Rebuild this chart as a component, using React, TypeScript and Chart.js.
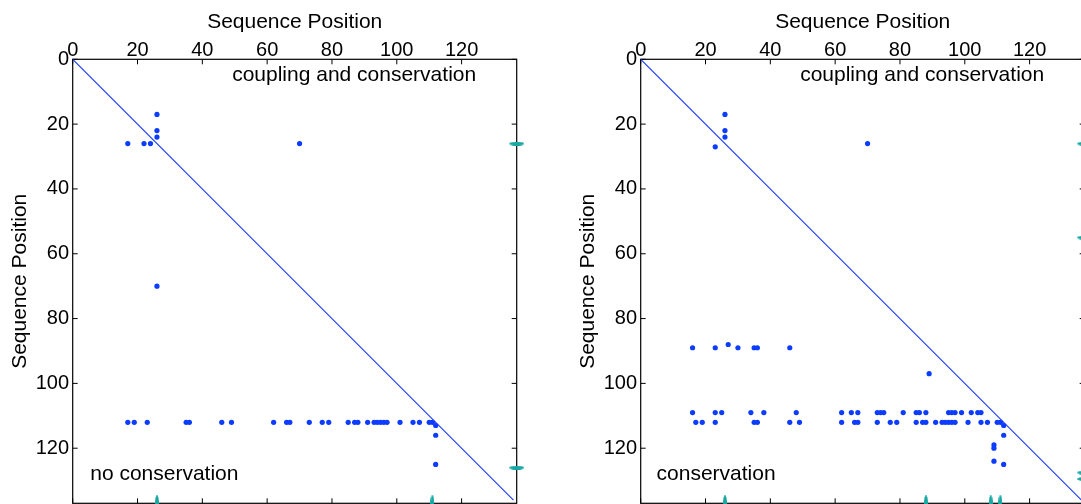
import React, { useEffect, useRef } from "react";
import { Chart, registerables } from "chart.js";

Chart.register(...registerables);

// ---------- data ----------
const AXIS_MIN = 0;
const AXIS_MAX = 137;
const DIAGONAL_END = 136;
const TICK_VALUES = [0, 20, 40, 60, 80, 100, 120];
const AXIS_TITLE = "Sequence Position";
const UPPER_LABEL = "coupling and conservation";
const LEFT_LOWER_LABEL = "no conservation";
const RIGHT_LOWER_LABEL = "conservation";

// shared row at y = 112 (both panels)
const ROW_112_Y = 112;
const ROW_112_X = [17, 19, 23, 35, 36, 46, 49, 62, 66, 67, 73, 77, 79, 85, 87, 88, 91, 93, 94, 95, 96, 97, 101, 105, 107, 110, 111];

// left panel
const LEFT_SCATTERED: [number, number][] = [
  [26, 17], [26, 22], [26, 24], [17, 26], [22, 26], [24, 26], [70, 26], [26, 70],
  [112, 113], [112, 116], [112, 125],
];
const LEFT_EDGE_MARK_Y = [26, 126];
const LEFT_BOTTOM_MARK_X = [26, 111];

// right panel
const RIGHT_SCATTERED: [number, number][] = [
  [26, 17], [26, 22], [26, 24], [23, 27], [70, 26], [27, 88], [89, 97],
  [112, 113], [112, 116], [112, 125], [109, 119], [109, 120], [109, 124],
];
const RIGHT_ROW_89_Y = 89;
const RIGHT_ROW_89_X = [16, 23, 30, 35, 36, 46];
const RIGHT_ROW_109_Y = 109;
const RIGHT_ROW_109_X = [16, 23, 25, 34, 38, 48, 62, 65, 67, 73, 74, 75, 81, 85, 86, 88, 95, 96, 97, 99, 102, 104, 105];
const RIGHT_EDGE_MARK_Y = [26, 55, 127.5, 129.5];
const RIGHT_BOTTOM_MARK_X = [26, 88, 108, 111];

// ---------- styling ----------
const FONT = "'Liberation Sans', Arial, Helvetica, sans-serif";
const BLUE = "#0b3cff";
const LINE_BLUE = "#1a3cff";
const CYAN = "#17a8a3";
const CANVAS_W = 540;
const CANVAS_H = 504;
const PLOT_LEFT = 72.7;
const PLOT_TOP = 59.3;
const PLOT_RIGHT = 516.7;
const PLOT_BOTTOM = 503.3;

function ellipseCanvas(w: number, h: number, color: string) {
  const c = document.createElement("canvas");
  c.width = w;
  c.height = h;
  const ctx = c.getContext("2d")!;
  ctx.fillStyle = color;
  ctx.beginPath();
  ctx.ellipse(w / 2, h / 2, w / 2, h / 2, 0, 0, Math.PI * 2);
  ctx.fill();
  return c;
}

type Panel = {
  points: { x: number; y: number }[];
  edgeY: number[];
  bottomX: number[];
  lowerLabel: string;
  lowerLabelX: number;
};

function rowPoints(xs: number[], y: number) {
  return xs.map((x) => ({ x, y }));
}

const LEFT_PANEL: Panel = {
  points: [
    ...LEFT_SCATTERED.map(([x, y]) => ({ x, y })),
    ...rowPoints(ROW_112_X, ROW_112_Y),
  ],
  edgeY: LEFT_EDGE_MARK_Y,
  bottomX: LEFT_BOTTOM_MARK_X,
  lowerLabel: LEFT_LOWER_LABEL,
  lowerLabelX: 5.4,
};

const RIGHT_PANEL: Panel = {
  points: [
    ...RIGHT_SCATTERED.map(([x, y]) => ({ x, y })),
    ...rowPoints(RIGHT_ROW_89_X, RIGHT_ROW_89_Y),
    ...rowPoints(RIGHT_ROW_109_X, RIGHT_ROW_109_Y),
    ...rowPoints(ROW_112_X, ROW_112_Y),
  ],
  edgeY: RIGHT_EDGE_MARK_Y,
  bottomX: RIGHT_BOTTOM_MARK_X,
  lowerLabel: RIGHT_LOWER_LABEL,
  lowerLabelX: 4.9,
};

const framePlugin = {
  id: "matlabFrame",
  beforeDatasetsDraw(chart: any) {
    const { ctx, chartArea: a, scales } = chart;
    ctx.save();
    ctx.strokeStyle = "#000";
    ctx.lineWidth = 1.2;
    ctx.strokeRect(a.left, a.top, a.right - a.left, a.bottom - a.top);
    const L = 5;
    ctx.lineWidth = 1;
    ctx.beginPath();
    for (const v of TICK_VALUES) {
      const px = scales.x.getPixelForValue(v);
      ctx.moveTo(px, a.top);
      ctx.lineTo(px, a.top + L);
      ctx.moveTo(px, a.bottom);
      ctx.lineTo(px, a.bottom - L);
      const py = scales.y.getPixelForValue(v);
      ctx.moveTo(a.left, py);
      ctx.lineTo(a.left + L, py);
      ctx.moveTo(a.right, py);
      ctx.lineTo(a.right - L, py);
    }
    ctx.stroke();
    ctx.restore();
  },
};

function makeTextPlugin(panel: Panel) {
  return {
    id: "panelText",
    afterDatasetsDraw(chart: any) {
      const { ctx, scales } = chart;
      ctx.save();
      ctx.fillStyle = "#000";
      ctx.font = `21px ${FONT}`;
      ctx.textAlign = "left";
      ctx.textBaseline = "alphabetic";
      ctx.fillText(UPPER_LABEL, scales.x.getPixelForValue(49.2), scales.y.getPixelForValue(6.8));
      ctx.fillText(panel.lowerLabel, scales.x.getPixelForValue(panel.lowerLabelX), scales.y.getPixelForValue(129.9));
      ctx.restore();
    },
  };
}

function buildChart(canvas: HTMLCanvasElement, panel: Panel) {
  const hMark = ellipseCanvas(15, 4, CYAN);
  const vMark = ellipseCanvas(4, 16, CYAN);
  const tickFont = { family: FONT, size: 20 };
  const titleFont = { family: FONT, size: 21 };
  return new Chart(canvas, {
    type: "scatter",
    data: {
      datasets: [
        {
          type: "line",
          data: [
            { x: AXIS_MIN, y: AXIS_MIN },
            { x: DIAGONAL_END, y: DIAGONAL_END },
          ],
          borderColor: LINE_BLUE,
          borderWidth: 1.1,
          pointRadius: 0,
          fill: false,
          tension: 0,
        } as any,
        {
          data: panel.points,
          backgroundColor: BLUE,
          borderWidth: 0,
          pointRadius: 2.6,
          pointHoverRadius: 2.6,
        },
        {
          data: panel.edgeY.map((y) => ({ x: AXIS_MAX, y })),
          pointStyle: hMark as any,
          pointRadius: 3,
          clip: false as any,
        },
        {
          data: panel.bottomX.map((x) => ({ x, y: AXIS_MAX })),
          pointStyle: vMark as any,
          pointRadius: 3,
          clip: false as any,
        },
      ],
    },
    options: {
      responsive: false,
      animation: false,
      events: [],
      layout: {
        autoPadding: false,
        padding: {
          left: 0,
          top: 0,
          right: CANVAS_W - PLOT_RIGHT,
          bottom: CANVAS_H - PLOT_BOTTOM,
        },
      },
      plugins: {
        legend: { display: false },
        tooltip: { enabled: false },
      },
      scales: {
        x: {
          type: "linear",
          position: "top",
          min: AXIS_MIN,
          max: AXIS_MAX,
          grid: { display: false, drawTicks: false },
          border: { display: false },
          afterBuildTicks: (scale: any) => {
            scale.ticks = TICK_VALUES.map((value) => ({ value }));
          },
          afterFit: (scale: any) => {
            scale.height = PLOT_TOP;
            scale.paddingLeft = 0;
            scale.paddingRight = 0;
          },
          ticks: {
            autoSkip: false,
            maxRotation: 0,
            padding: -2.9,
            color: "#000",
            font: tickFont,
            callback: (v: any) => String(v),
          },
          title: {
            display: true,
            text: AXIS_TITLE,
            color: "#000",
            font: titleFont,
            padding: { top: 9.6, bottom: 0 },
          },
        },
        y: {
          type: "linear",
          position: "left",
          reverse: true,
          min: AXIS_MIN,
          max: AXIS_MAX,
          grid: { display: false, drawTicks: false },
          border: { display: false },
          afterBuildTicks: (scale: any) => {
            scale.ticks = TICK_VALUES.map((value) => ({ value }));
          },
          afterFit: (scale: any) => {
            scale.width = PLOT_LEFT;
            scale.paddingTop = 0;
            scale.paddingBottom = 0;
          },
          ticks: {
            autoSkip: false,
            padding: 3.7,
            color: "#000",
            font: tickFont,
            callback: (v: any) => String(v),
          },
          title: {
            display: true,
            text: AXIS_TITLE,
            color: "#000",
            font: titleFont,
            padding: { top: 7.9, bottom: 0 },
          },
        },
      },
    } as any,
    plugins: [framePlugin, makeTextPlugin(panel)],
  });
}

export default function App() {
  const leftRef = useRef<HTMLCanvasElement>(null);
  const rightRef = useRef<HTMLCanvasElement>(null);

  useEffect(() => {
    const charts: Chart[] = [];
    if (leftRef.current) charts.push(buildChart(leftRef.current, LEFT_PANEL));
    if (rightRef.current) charts.push(buildChart(rightRef.current, RIGHT_PANEL));
    return () => charts.forEach((c) => c.destroy());
  }, []);

  const canvasStyle = (left: number): React.CSSProperties => ({
    position: "absolute",
    left,
    top: 0,
    width: CANVAS_W,
    height: CANVAS_H,
  });

  return (
    <div
      style={{
        position: "absolute",
        left: 0,
        top: 0,
        width: 1081,
        height: 504,
        overflow: "hidden",
        background: "#fff",
      }}
    >
      <canvas ref={leftRef} width={CANVAS_W} height={CANVAS_H} style={canvasStyle(0)} />
      <canvas ref={rightRef} width={CANVAS_W} height={CANVAS_H} style={canvasStyle(568)} />
    </div>
  );
}
